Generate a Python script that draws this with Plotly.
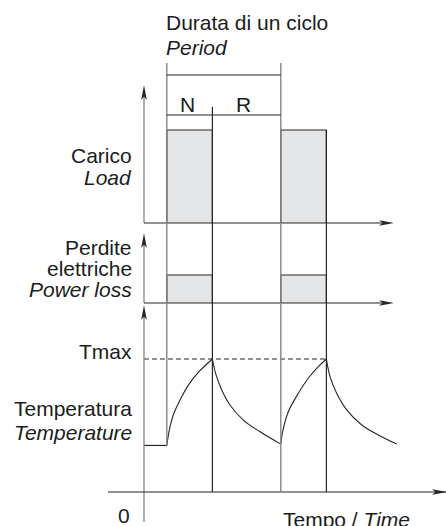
import plotly.graph_objects as go

# ---------------- data ----------------
t_on = [2, 12]            # start of each load interval (N)
t_off = [6, 16]           # end of each load interval
cycle_start = [2, 12]     # one complete cycle: N + R
load_level = [1.0, 1.0]   # load during N
loss_level = [1.0, 1.0]   # electrical losses during N
T_start = 35              # initial temperature
T_max = 100               # peak temperature

# heating (N) and cooling (R) curves: time, temperature
rise1_t = [2.0, 2.22, 2.57, 3.16, 4.04, 4.91, 6.0]
rise1_T = [35, 46.6, 57.9, 69.2, 82.2, 91.2, 100]
fall1_t = [6.0, 6.32, 6.82, 7.54, 8.71, 10.18, 12.0]
fall1_T = [100, 88.0, 76.7, 65.4, 54.1, 45.3, 36]
rise2_t = [12.0, 12.13, 12.66, 13.54, 14.41, 15.29, 16.0]
rise2_T = [36, 44.1, 60.4, 74.2, 85.5, 94.2, 100]
fall2_t = [16.0, 16.32, 16.9, 17.78, 19.1, 20.55, 22.17]
fall2_T = [100, 86.7, 74.2, 61.7, 50.4, 42.9, 36.1]

# ---------------- geometry ----------------
W, H = 446, 526
X0_PX, PX_PER_T = 144, 11.4          # time origin and scale
AXES = {                             # zero line (px) and px per unit
    "y": (492, 1.33),                # temperature
    "y2": (223, 93.0),               # load
    "y3": (303, 28.0),               # power loss
}


def yrange(name):
    zero, k = AXES[name]
    return [(zero - H) / k, zero / k]


def px(x):
    return x / W


def py(y):
    return 1 - y / H


def to_paper(name, v):
    zero, k = AXES[name]
    return py(zero - v * k)


INK = "#262626"
GREY = "#858585"
FILL = "#e5e6e8"
FONT = dict(family="Liberation Sans, Arial, sans-serif", size=21, color="#1c1c1c")

fig = go.Figure()

# load and loss blocks
for a, b, L, P in zip(t_on, t_off, load_level, loss_level):
    fig.add_trace(go.Scatter(x=[a, a, b, b], y=[0, L, L, 0], yaxis="y2",
                             fill="toself", fillcolor=FILL, mode="lines",
                             line=dict(color=INK, width=1.2)))
    fig.add_trace(go.Scatter(x=[a, a, b, b], y=[0, P, P, 0], yaxis="y3",
                             fill="toself", fillcolor=FILL, mode="lines",
                             line=dict(color=INK, width=1.2)))

# temperature
fig.add_trace(go.Scatter(x=[0, t_on[0]], y=[T_start, T_start], mode="lines",
                         line=dict(color=INK, width=1.2)))
fig.add_trace(go.Scatter(x=[0, t_off[1]], y=[T_max, T_max], mode="lines",
                         line=dict(color=INK, width=1.1, dash="5px,3px")))
for xs, ys in [(rise1_t, rise1_T), (fall1_t, fall1_T),
               (rise2_t, rise2_T), (fall2_t, fall2_T)]:
    fig.add_trace(go.Scatter(x=xs, y=ys, mode="lines",
                             line=dict(color=INK, width=1.1, shape="spline",
                                       smoothing=1.0)))

shapes = []


def vline(x, y0, y1, color=INK, width=1.2):
    shapes.append(dict(type="line", xref="x", yref="paper", x0=x, x1=x,
                       y0=y0, y1=y1, line=dict(color=color, width=width)))


def hline(x0, x1, y, yref, color=INK, width=1.2):
    shapes.append(dict(type="line", xref="x", yref=yref, x0=x0, x1=x1,
                       y0=y, y1=y, line=dict(color=color, width=width)))


def arrow_right(x, y, yref):
    shapes.append(dict(type="path", xref="x", yref=yref, xsizemode="pixel",
                       ysizemode="pixel", xanchor=x, yanchor=y,
                       path="M0,0 L-15,2.8 L-11.5,0 L-15,-2.8 Z",
                       fillcolor=INK, line=dict(width=0)))


def arrow_up(x, y):
    shapes.append(dict(type="path", xref="x", yref="paper", xsizemode="pixel",
                       ysizemode="pixel", xanchor=x, yanchor=y,
                       path="M0,0 L-2.8,-15 L0,-11.5 L2.8,-15 Z",
                       fillcolor=INK, line=dict(width=0)))


# vertical value axis, split into three stacked parts
vline(0, py(223), py(92), GREY, 1.3)
vline(0, py(303), py(240), GREY, 1.3)
vline(0, py(522), py(312), GREY, 1.3)
arrow_up(0, py(85))
arrow_up(0, py(233))
arrow_up(0, py(305))

# horizontal time axes
t_axis_end = (394 - X0_PX) / PX_PER_T
hline(0, t_axis_end - 1, 0, "y2")
hline(0, t_axis_end - 1, 0, "y3")
hline((108 - X0_PX) / PX_PER_T, (446 - X0_PX) / PX_PER_T, 0, "y")
arrow_right(t_axis_end, 0, "y2")
arrow_right(t_axis_end, 0, "y3")
arrow_right((447 - X0_PX) / PX_PER_T, 0, "y")

# cycle boundaries
vline(cycle_start[0], to_paper("y", T_start), py(63), GREY, 1.4)
vline(cycle_start[1], to_paper("y", 0), py(63), GREY, 1.4)
vline(t_off[0], to_paper("y", 0), py(107))
vline(t_off[1], to_paper("y", 0), to_paper("y2", load_level[1]))

# period bracket
shapes.append(dict(type="line", xref="x", yref="paper", x0=cycle_start[0],
                   x1=cycle_start[1], y0=py(75), y1=py(75),
                   line=dict(color=INK, width=1.2)))
shapes.append(dict(type="line", xref="x", yref="paper", x0=cycle_start[0],
                   x1=cycle_start[1], y0=py(115), y1=py(115),
                   line=dict(color=INK, width=1.2)))

annotations = []


def label(text, x, y, xanchor):
    annotations.append(dict(text=text, xref="paper", yref="paper", x=px(x),
                            y=py(y), xanchor=xanchor, yanchor="middle",
                            showarrow=False, font=FONT, borderpad=0))


label("Durata di un ciclo", 165, 22, "left")
label("<i>Period</i>", 165, 47, "left")
label("N", 187, 104, "center")
label("R", 243, 104, "center")
label("Carico", 133, 155, "right")
label("<i>Load</i>", 133, 177, "right")
label("Perdite", 133, 247.5, "right")
label("elettriche", 133, 268.5, "right")
label("<i>Power loss</i>", 133, 289.5, "right")
label("Tmax", 133, 351, "right")
label("Temperatura", 133, 408, "right")
label("<i>Temperature</i>", 133, 432, "right")
label("0", 124, 515, "center")
label("Tempo / <i>Time</i>", 282, 519, "left")

hidden = dict(visible=False, fixedrange=True)
fig.update_layout(
    width=W, height=H, margin=dict(l=0, r=0, t=0, b=0),
    paper_bgcolor="white", plot_bgcolor="white", showlegend=False,
    xaxis=dict(range=[-X0_PX / PX_PER_T, (W - X0_PX) / PX_PER_T],
               domain=[0, 1], **hidden),
    yaxis=dict(range=yrange("y"), domain=[0, 1], **hidden),
    yaxis2=dict(range=yrange("y2"), overlaying="y", **hidden),
    yaxis3=dict(range=yrange("y3"), overlaying="y", **hidden),
    shapes=shapes, annotations=annotations,
)

fig.write_html("out.html", config={"displayModeBar": False})
